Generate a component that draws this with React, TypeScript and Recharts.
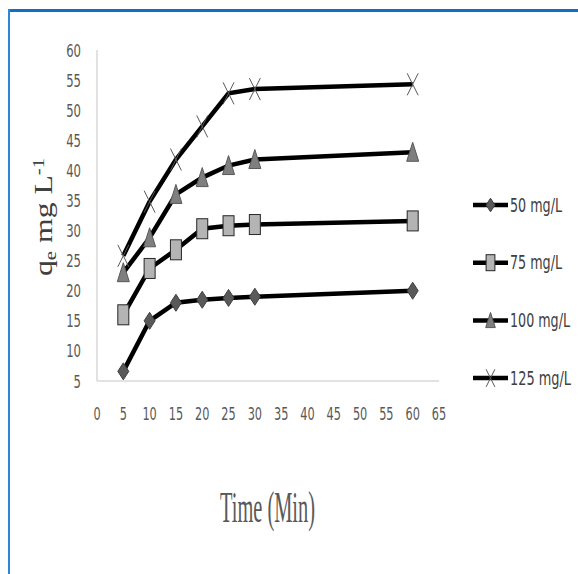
import React from 'react';
import { LineChart, Line, XAxis, YAxis, Legend } from 'recharts';

const times = [5, 10, 15, 20, 25, 30, 60];
const q50 = [6.6, 15, 18, 18.5, 18.8, 19, 20];
const q75 = [16, 23.7, 26.8, 30.3, 30.8, 31, 31.6];
const q100 = [23, 28.8, 36, 38.8, 40.8, 41.8, 43];
const q125 = [25.8, 34.8, 41.8, 47.3, 52.8, 53.5, 54.3];
const seriesNames = ['50 mg/L', '75 mg/L', '100 mg/L', '125 mg/L'];
const xTicks = [0, 5, 10, 15, 20, 25, 30, 35, 40, 45, 50, 55, 60, 65];
const yTicks = [5, 10, 15, 20, 25, 30, 35, 40, 45, 50, 55, 60];

const data = times.map((t, i) => ({ t, s50: q50[i], s75: q75[i], s100: q100[i], s125: q125[i] }));

const NARROW = "'Liberation Sans Narrow', 'DejaVu Sans Condensed', 'Liberation Sans', sans-serif";
const SERIF = "'Liberation Serif', 'DejaVu Serif', serif";

type M = { cx: number; cy: number; s?: number };
const Diamond = ({ cx, cy, s = 1 }: M) => (
  <polygon points={`${cx},${cy - 8.5 * s} ${cx + 5.5 * s},${cy} ${cx},${cy + 8.5 * s} ${cx - 5.5 * s},${cy}`} fill="#595959" stroke="#404040" strokeWidth={1} />
);
const Square = ({ cx, cy, s = 1 }: M) => (
  <rect x={cx - 5.5 * s} y={cy - 10 * s} width={11 * s} height={20 * s} fill="#b4b4b4" stroke="#262626" strokeWidth={1} />
);
const Tri = ({ cx, cy, s = 1 }: M) => (
  <polygon points={`${cx},${cy - 10 * s} ${cx + 6 * s},${cy + 9 * s} ${cx - 6 * s},${cy + 9 * s}`} fill="#7f7f7f" stroke="#595959" strokeWidth={1} />
);
const Cross = ({ cx, cy, s = 1 }: M) => (
  <g stroke="#595959" strokeWidth={1}>
    <line x1={cx - 5.5 * s} y1={cy - 11 * s} x2={cx + 5.5 * s} y2={cy + 11 * s} />
    <line x1={cx + 5.5 * s} y1={cy - 11 * s} x2={cx - 5.5 * s} y2={cy + 11 * s} />
  </g>
);
const shapes = [Diamond, Square, Tri, Cross];
const legendWidths = [52, 52, 60, 61];

const YTick = (p: any) => {
  const v = String(p.payload.value);
  return (
    <text x={81} y={p.y} textAnchor="end" dominantBaseline="central" fontFamily={NARROW} fontSize={18} fill="#595959" textLength={v.length * 7.4} lengthAdjust="spacingAndGlyphs">
      {v}
    </text>
  );
};
const XTick = (p: any) => {
  const v = String(p.payload.value);
  return (
    <text x={p.x} y={413} textAnchor="middle" dominantBaseline="central" fontFamily={NARROW} fontSize={18} fill="#595959" textLength={v.length * 7.2} lengthAdjust="spacingAndGlyphs">
      {v}
    </text>
  );
};

const XTitle = () => (
  <text x={220} y={522} fontFamily={SERIF} fontSize={44} fill="#595959" textLength={95} lengthAdjust="spacingAndGlyphs">
    Time (Min)
  </text>
);
const YTitle = () => (
  <text transform="translate(52,276) rotate(-90) scale(1.22,1)" fontFamily={SERIF} fontSize={26} fill="#404040">
    <tspan>q</tspan>
    <tspan fontSize={17} dy={4}>e</tspan>
    <tspan dy={-4}> mg L</tspan>
    <tspan fontSize={17} dy={-8}>-1</tspan>
  </text>
);

const LSCALE = 0.75;
const LegendContent = () => (
  <svg width={110} height={215} style={{ display: 'block' }}>
    {seriesNames.map((n, i) => {
      const y = 20 + i * 57.7;
      const S = shapes[i];
      return (
        <g key={n}>
          <line x1={5} y1={y} x2={40} y2={y} stroke="#000" strokeWidth={4.5} />
          <S cx={22.5} cy={y} s={0.8} />
          <g transform={`translate(42,${y}) scale(${LSCALE},1)`}>
            <text x={0} y={0} dominantBaseline="central" fontFamily={NARROW} fontSize={19} fill="#404040" textLength={legendWidths[i] / LSCALE} lengthAdjust="spacingAndGlyphs">
              {n}
            </text>
          </g>
        </g>
      );
    })}
  </svg>
);

const keys = ['s50', 's75', 's100', 's125'];

export default function App() {
  return (
    <div style={{ position: 'absolute', left: 0, top: 0, width: 578, height: 574, background: '#fff' }}>
      <div style={{ position: 'absolute', left: 8, top: 9, width: 570, height: 3, background: '#0f6fc4' }} />
      <div style={{ position: 'absolute', left: 8, top: 9, width: 2, height: 565, background: '#2f86d6' }} />
      <div style={{ position: 'absolute', left: 0, top: 0 }}>
        <LineChart width={578} height={574} data={data} margin={{ top: 50, right: 139, left: 0, bottom: 0 }}>
          <XAxis
            dataKey="t"
            type="number"
            domain={[0, 65]}
            ticks={xTicks}
            height={193}
            axisLine={{ stroke: '#d9d9d9', strokeWidth: 1.5 }}
            tickLine={false}
            tick={<XTick />}
            interval={0}
            label={<XTitle />}
          />
          <YAxis
            type="number"
            domain={[5, 60]}
            ticks={yTicks}
            width={97}
            axisLine={{ stroke: '#d9d9d9', strokeWidth: 1.5 }}
            tickLine={false}
            tick={<YTick />}
            interval={0}
            label={<YTitle />}
          />
          <Legend
            layout="vertical"
            align="center"
            verticalAlign="middle"
            wrapperStyle={{ position: 'absolute', left: 468, top: 185, width: 110, height: 215 }}
            content={<LegendContent />}
          />
          {keys.map((k, i) => {
            const S = shapes[i];
            return (
              <Line
                key={k}
                dataKey={k}
                name={seriesNames[i]}
                type="linear"
                stroke="#000"
                strokeWidth={4.5}
                isAnimationActive={false}
                dot={(p: any) => <S key={`${k}-${p.index}`} cx={p.cx} cy={p.cy} />}
                activeDot={false}
              />
            );
          })}
        </LineChart>
      </div>
    </div>
  );
}
